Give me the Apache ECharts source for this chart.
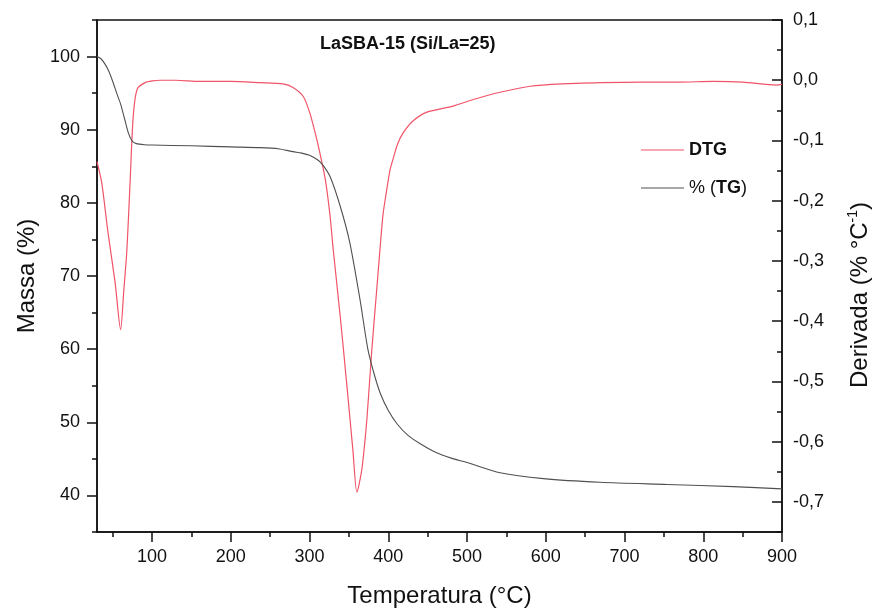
<!DOCTYPE html>
<html>
<head>
<meta charset="utf-8">
<script src="https://cdn.jsdelivr.net/npm/echarts@6/dist/echarts.min.js"></script>
<style>html,body{margin:0;padding:0;background:#fff;}#c{width:878px;height:613px;}</style>
</head>
<body>
<div id="c"></div>
<script>
// DTG (right axis, % °C^-1)
const dtgTemp = [30, 36, 44, 53, 60, 64, 68, 72, 76, 81, 91, 101, 110, 130, 160, 200, 237, 266, 279, 292, 300, 307, 313, 320, 326, 330, 339, 347, 355, 360, 363, 367, 373, 379, 386, 393, 397, 402, 406, 412, 419, 431, 449, 482, 508, 542, 580, 620, 670, 720, 770, 812, 850, 893, 900];
const dtgVal  = [-0.135, -0.17, -0.253, -0.336, -0.414, -0.35, -0.281, -0.17, -0.06, -0.015, -0.004, -0.001, 0.0, 0.0, -0.002, -0.002, -0.004, -0.006, -0.012, -0.027, -0.053, -0.087, -0.12, -0.165, -0.225, -0.281, -0.393, -0.502, -0.614, -0.684, -0.67, -0.64, -0.559, -0.448, -0.336, -0.226, -0.19, -0.15, -0.131, -0.105, -0.087, -0.068, -0.053, -0.043, -0.032, -0.020, -0.010, -0.006, -0.004, -0.003, -0.003, -0.002, -0.003, -0.008, -0.007];
// TG (left axis, %)
const tgTemp = [30, 35, 40, 45, 50, 55, 60, 65, 70, 75, 80, 90, 100, 150, 200, 237, 260, 279, 290, 300, 310, 316, 326, 339, 351, 364, 374, 382, 390, 400, 411, 425, 440, 460, 480, 500, 542, 597, 669, 754, 838, 900];
const tgVal  = [100, 99.7, 99, 98, 96.6, 95, 93.5, 91.5, 89.5, 88.4, 88.1, 87.95, 87.9, 87.8, 87.65, 87.55, 87.4, 87.0, 86.8, 86.5, 85.9, 85.3, 83.6, 79.5, 74.6, 66.8, 60, 56.6, 53.9, 51.6, 49.8, 48.2, 47.1, 45.9, 45.1, 44.5, 43.1, 42.3, 41.8, 41.5, 41.2, 40.9];

const xMajor = [100, 200, 300, 400, 500, 600, 700, 800, 900];
const xMinor = [50, 150, 250, 350, 450, 550, 650, 750, 850];
const leftMajor = [40, 50, 60, 70, 80, 90, 100];
const leftMinor = [35, 45, 55, 65, 75, 85, 95, 105];
const rightMajor = [-0.7, -0.6, -0.5, -0.4, -0.3, -0.2, -0.1, 0.0, 0.1];
const rightMinor = [-0.75, -0.65, -0.55, -0.45, -0.35, -0.25, -0.15, -0.05, 0.05];

const FONT = 'Liberation Sans, Arial, sans-serif';
const INK = '#111';
const RED = '#f05468';
const GREY = '#505050';

const chart = echarts.init(document.getElementById('c'), null, {renderer: 'canvas'});
const tickStyle = {color: INK, width: 1.5};
chart.setOption({
  animation: false,
  backgroundColor: '#fff',
  title: {
    text: 'LaSBA-15 (Si/La=25)',
    left: 320, top: 35, padding: 0,
    textStyle: {fontFamily: FONT, fontWeight: 'bold', fontSize: 18, color: INK}
  },
  legend: {
    orient: 'vertical', left: 636, top: 136, itemWidth: 43, itemHeight: 1.2, itemGap: 20,
    icon: 'rect',
    data: ['DTG', '% (TG)'],
    itemStyle: {borderWidth: 0},
    formatter: n => n === 'DTG' ? '{b|DTG}' : '{n|% (}{b|TG}{n|)}',
    textStyle: {fontFamily: FONT, fontSize: 18, color: INK,
      rich: {b: {fontFamily: FONT, fontSize: 18, fontWeight: 'bold', color: INK},
             n: {fontFamily: FONT, fontSize: 18, color: INK}}}
  },
  grid: {left: 97, right: 96, top: 20, bottom: 81, outerBoundsMode: 'none', containLabel: false,
         show: true, borderColor: INK, borderWidth: 1.5, backgroundColor: 'transparent'},
  xAxis: [
    {type: 'value', min: 30, max: 900, position: 'bottom',
     name: 'Temperatura (°C)', nameLocation: 'middle', nameGap: 52,
     nameTextStyle: {fontFamily: FONT, fontSize: 24, color: INK},
     axisLine: {show: true, onZero: false, lineStyle: tickStyle},
     axisTick: {show: true, customValues: xMajor, length: 10, lineStyle: tickStyle},
     axisLabel: {customValues: xMajor, margin: 16, fontFamily: FONT, fontSize: 18, color: INK},
     splitLine: {show: false}},
    {type: 'value', min: 30, max: 900, position: 'bottom',
     axisLine: {show: false, onZero: false},
     axisTick: {show: true, customValues: xMinor, length: 5, lineStyle: tickStyle},
     axisLabel: {show: false}, splitLine: {show: false}}
  ],
  yAxis: [
    {type: 'value', min: 35, max: 105, position: 'left',
     name: 'Massa (%)', nameLocation: 'middle', nameGap: 55, nameRotate: 90,
     nameTextStyle: {fontFamily: FONT, fontSize: 24, color: INK},
     axisLine: {show: true, onZero: false, lineStyle: tickStyle},
     axisTick: {show: true, customValues: leftMajor, length: 10, lineStyle: tickStyle},
     axisLabel: {customValues: leftMajor, margin: 17, fontFamily: FONT, fontSize: 18, color: INK},
     splitLine: {show: false}},
    {type: 'value', min: -0.75, max: 0.1, position: 'right',
     name: '{a|Derivada (% °C}{s|-1}{a|)}', nameLocation: 'middle', nameGap: 64, nameRotate: 90,
     nameTextStyle: {fontFamily: FONT, fontSize: 24, color: INK, padding: [0, 38, 0, 0],
       rich: {a: {fontFamily: FONT, fontSize: 24, color: INK, lineHeight: 28},
              s: {fontFamily: FONT, fontSize: 14, color: INK, verticalAlign: 'top', lineHeight: 28}}},
     axisLine: {show: true, onZero: false, lineStyle: tickStyle},
     axisTick: {show: true, inside: true, customValues: rightMajor, length: 10, lineStyle: tickStyle},
     axisLabel: {customValues: rightMajor, margin: 11, fontFamily: FONT, fontSize: 18, color: INK,
       formatter: v => (Math.abs(v) < 1e-9 ? 0 : v).toFixed(1).replace('.', ',')},
     splitLine: {show: false}},
    {type: 'value', min: 35, max: 105, position: 'left',
     axisLine: {show: false, onZero: false},
     axisTick: {show: true, customValues: leftMinor, length: 5, lineStyle: tickStyle},
     axisLabel: {show: false}, splitLine: {show: false}},
    {type: 'value', min: -0.75, max: 0.1, position: 'right',
     axisLine: {show: false, onZero: false},
     axisTick: {show: true, inside: true, customValues: rightMinor, length: 5, lineStyle: tickStyle},
     axisLabel: {show: false}, splitLine: {show: false}}
  ],
  series: [
    {name: 'DTG', type: 'line', xAxisIndex: 0, yAxisIndex: 1, symbol: 'none', smooth: 0.25,
     lineStyle: {color: RED, width: 1.2}, itemStyle: {color: RED},
     data: dtgTemp.map((t, i) => [t, dtgVal[i]])},
    {name: '% (TG)', type: 'line', xAxisIndex: 0, yAxisIndex: 0, symbol: 'none', smooth: 0.25,
     lineStyle: {color: GREY, width: 1.1}, itemStyle: {color: GREY},
     data: tgTemp.map((t, i) => [t, tgVal[i]])}
  ]
});
</script>
</body>
</html>
